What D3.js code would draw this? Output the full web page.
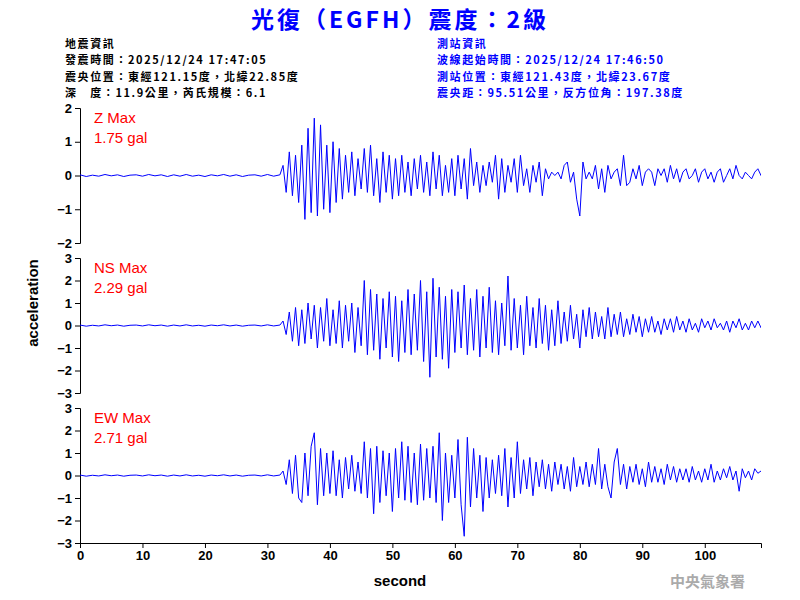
<!DOCTYPE html>
<html>
<head>
<meta charset="utf-8">
<script src="https://cdn.jsdelivr.net/npm/d3@7"></script>
<style>
body { margin: 0; background: #fff; }
text { font-family: Arial, "Liberation Sans", sans-serif; }
.cjk { font-family: "Noto Sans CJK TC", sans-serif; }
</style>
</head>
<body>
<svg id="chart" width="800" height="600"></svg>
<script>
// pre-event noise, 1 s steps from 0 to 31 s
var quiet = [0.02,-0.03,0.01,-0.02,0.03,-0.01,0.02,-0.03,0.01,0.02,-0.02,0.03,-0.01,0.02,-0.03,0.02,
  -0.02,0.03,-0.02,0.01,-0.03,0.02,-0.01,0.03,-0.02,0.02,-0.03,0.01,0.02,-0.02,0.03,-0.02];

// waveforms, 0.5 s steps from 32 s
var zWave = [0.02,0.3,-0.5,0.7,-0.6,0.6,-0.8,0.9,-1.3,1.4,-1.1,1.7,-1.2,1.5,-1.0,0.9,-1.1,1.0,-0.8,0.8,
  -0.7,0.6,-0.5,0.7,-0.6,0.5,-0.4,0.8,-0.5,0.9,-0.6,0.5,-0.8,0.7,-0.5,0.6,-0.7,0.5,-0.6,0.6,
  -0.5,0.4,-0.6,0.5,-0.4,0.6,-0.5,0.4,-0.6,0.7,-0.4,0.6,-0.6,0.3,-0.5,0.5,-0.6,0.6,-0.4,0.5,
  -0.7,0.8,-0.3,0.4,-0.5,0.3,-0.3,0.4,-0.2,0.6,-0.7,0.5,-0.5,0.3,-0.2,0.5,-0.5,0.6,-0.3,0.2,
  -0.5,0.3,-0.2,0.4,-0.6,0.2,-0.1,0.1,0.0,0.1,-0.1,0.3,0.4,-0.2,0.1,-0.7,-1.2,0.4,-0.1,0.1,
  -0.1,0.3,-0.4,0.2,-0.5,0.3,-0.1,0.1,0.2,-0.3,0.6,-0.3,-0.2,0.2,-0.1,0.3,-0.3,0.1,0.2,0.1,
  -0.3,0.2,0.0,0.2,-0.2,0.3,-0.1,0.2,-0.2,0.1,0.2,-0.1,0.0,0.2,-0.2,0.1,0.2,-0.1,0.1,-0.2,
  0.1,0.2,-0.2,0.0,0.2,-0.1,0.3,0.0,-0.1,0.1,0.0,-0.1,0.1,0.2,0.0,0.1];
var nsWave = [0.02,0.2,-0.4,0.6,-0.7,0.8,-0.9,0.7,-0.8,1.0,-0.6,0.9,-1.0,0.8,-0.7,1.2,-0.9,0.7,-0.8,1.1,
  -1.0,0.9,-0.7,1.0,-1.2,0.8,-0.9,2.0,-1.3,1.6,-1.1,1.4,-1.5,1.2,-1.0,1.5,-1.4,1.3,-1.6,1.1,
  -1.2,1.6,-1.3,1.4,-1.1,2.0,-1.6,1.5,-2.3,2.1,-1.4,1.7,-1.5,1.3,-1.9,1.6,-1.2,1.5,-1.0,1.8,
  -1.3,1.2,-1.1,1.6,-1.4,1.3,-1.0,1.7,-1.2,1.1,-1.3,1.0,-0.9,2.2,-1.1,1.2,-1.0,0.9,-1.3,1.3,
  -0.9,0.8,-1.0,1.2,-0.8,0.9,-1.1,0.7,-0.9,1.1,-0.8,0.6,-0.7,0.9,-0.6,0.5,-1.0,0.7,-0.5,0.8,
  -0.6,0.6,-0.5,0.4,-0.6,0.8,-0.5,0.5,-0.4,0.6,-0.5,0.3,-0.4,0.5,-0.3,0.4,-0.5,0.3,-0.3,0.4,
  -0.3,0.2,-0.4,0.3,-0.2,0.3,-0.3,0.4,-0.2,0.2,-0.3,0.3,-0.2,0.1,-0.3,0.3,-0.1,0.2,-0.2,0.3,
  -0.1,0.1,-0.2,0.2,-0.3,0.2,-0.1,0.3,-0.2,0.1,-0.2,0.2,-0.1,0.2,-0.1,0.1];
var ewWave = [0.02,0.2,-0.4,0.7,-0.8,0.9,-1.0,-1.2,1.0,-0.9,1.3,1.9,-1.3,1.2,-0.9,1.0,-0.8,1.1,-0.9,0.7,
  -1.0,0.8,-0.6,0.9,-0.7,0.6,-0.8,1.5,-1.0,1.2,-1.7,1.3,-1.2,1.1,-0.9,1.0,-1.6,1.2,-1.0,1.5,
  -1.1,1.3,-1.2,1.0,-1.3,1.4,-1.1,1.2,-1.0,1.3,-1.2,1.9,-2.0,1.0,-1.2,0.9,-1.0,1.6,-1.3,-2.7,
  1.7,-1.4,1.2,-1.0,0.9,-1.6,0.8,-1.0,0.7,-0.8,0.9,-0.9,1.2,-1.4,0.8,-1.0,1.5,-0.8,0.7,-0.6,
  0.8,-0.9,0.6,-0.5,0.7,-0.6,0.5,-0.7,0.6,-0.4,0.5,-0.6,0.4,-0.7,0.8,-0.5,0.4,-0.4,0.6,-0.5,
  0.5,-0.4,1.2,-0.6,0.5,-0.5,-1.0,0.6,1.2,-0.4,0.5,-0.6,0.4,-0.3,0.5,-0.4,0.3,-0.5,0.6,-0.3,
  0.4,-0.3,0.3,-0.4,0.5,-0.2,0.4,-0.3,0.3,-0.2,0.3,-0.3,0.4,-0.2,0.2,-0.3,0.3,-0.2,0.5,-0.3,
  0.2,-0.2,0.3,-0.1,0.4,-0.2,0.2,-0.7,0.3,-0.1,0.2,-0.2,0.3,0.1,0.2,0.0];

var channels = ["Z", "NS", "EW"];
var maxGal = ["1.75", "2.29", "2.71"];
var waves = [zWave, nsWave, ewWave];
var yLimits = [2, 3, 3];
var xTicks = [0, 10, 20, 30, 40, 50, 60, 70, 80, 90, 100];

var quakeInfo = ["地震資訊", "發震時間：2025/12/24 17:47:05", "震央位置：東經121.15度，北緯22.85度", "深　度：11.9公里，芮氏規模：6.1"];
var stationInfo = ["測站資訊", "波線起始時間：2025/12/24 17:46:50", "測站位置：東經121.43度，北緯23.67度", "震央距：95.51公里，反方位角：197.38度"];

var svg = d3.select("#chart");
var blue = "#0000ff";

svg.append("text").attr("class", "cjk").attr("x", 400).attr("y", 28)
  .attr("text-anchor", "middle").attr("font-size", 23).attr("font-weight", "bold")
  .attr("letter-spacing", 3).attr("fill", blue).text("光復（EGFH）震度：2級");

svg.selectAll("text.qi").data(quakeInfo).enter().append("text")
  .attr("class", "cjk qi").attr("x", 65).attr("y", function(d, i) { return 48 + i * 16.3; })
  .attr("font-size", 11).attr("font-weight", "bold").attr("letter-spacing", 1.6)
  .attr("fill", "#000").text(function(d) { return d; });
svg.selectAll("text.si").data(stationInfo).enter().append("text")
  .attr("class", "cjk si").attr("x", 437).attr("y", function(d, i) { return 48 + i * 16.3; })
  .attr("font-size", 11).attr("font-weight", "bold").attr("letter-spacing", 1.6)
  .attr("fill", blue).text(function(d) { return d; });

var x = d3.scaleLinear().domain([0, 109]).range([80, 761]);
var panelTops = [108, 258, 408];
var panelH = 135;

svg.append("defs").append("clipPath").attr("id", "clip")
  .append("rect").attr("x", 80).attr("y", 0).attr("width", 681).attr("height", 600);

channels.forEach(function(ch, k) {
  var lim = yLimits[k];
  var y = d3.scaleLinear().domain([-lim, lim]).range([panelTops[k] + panelH, panelTops[k]]);
  var pts = quiet.map(function(v, i) { return [i, v]; })
    .concat(waves[k].map(function(v, i) { return [32 + i * 0.5, v]; }));

  var yAxis = svg.append("g").attr("transform", "translate(80,0)")
    .call(d3.axisLeft(y).tickValues(d3.range(-lim, lim + 1)).tickSize(5).tickFormat(d3.format("d")));
  yAxis.selectAll("text").attr("font-size", 13).attr("font-weight", "bold").attr("fill", "#000");

  svg.append("path").datum(pts).attr("clip-path", "url(#clip)")
    .attr("fill", "none").attr("stroke", blue).attr("stroke-width", 1)
    .attr("d", d3.line().x(function(d) { return x(d[0]); }).y(function(d) { return y(d[1]); }));

  svg.append("text").attr("x", 94).attr("y", panelTops[k] + 15).attr("font-size", 15)
    .attr("fill", "#ff0000").text(ch + " Max");
  svg.append("text").attr("x", 94).attr("y", panelTops[k] + 35).attr("font-size", 15)
    .attr("fill", "#ff0000").text(maxGal[k] + " gal");
});

var xAxis = svg.append("g").attr("transform", "translate(0,543)")
  .call(d3.axisBottom(x).tickValues(xTicks).tickSize(5));
xAxis.selectAll("text").attr("font-size", 13).attr("font-weight", "bold").attr("fill", "#000");

svg.append("text").attr("x", 400).attr("y", 586).attr("text-anchor", "middle")
  .attr("font-size", 15).attr("font-weight", "bold").text("second");
svg.append("text").attr("transform", "translate(38,303) rotate(-90)").attr("text-anchor", "middle")
  .attr("font-size", 15).attr("font-weight", "bold").text("acceleration");
svg.append("text").attr("class", "cjk").attr("x", 745).attr("y", 587).attr("text-anchor", "end")
  .attr("font-size", 15).attr("font-weight", "bold").attr("fill", "#aaaaaa").text("中央氣象署");
</script>
</body>
</html>
